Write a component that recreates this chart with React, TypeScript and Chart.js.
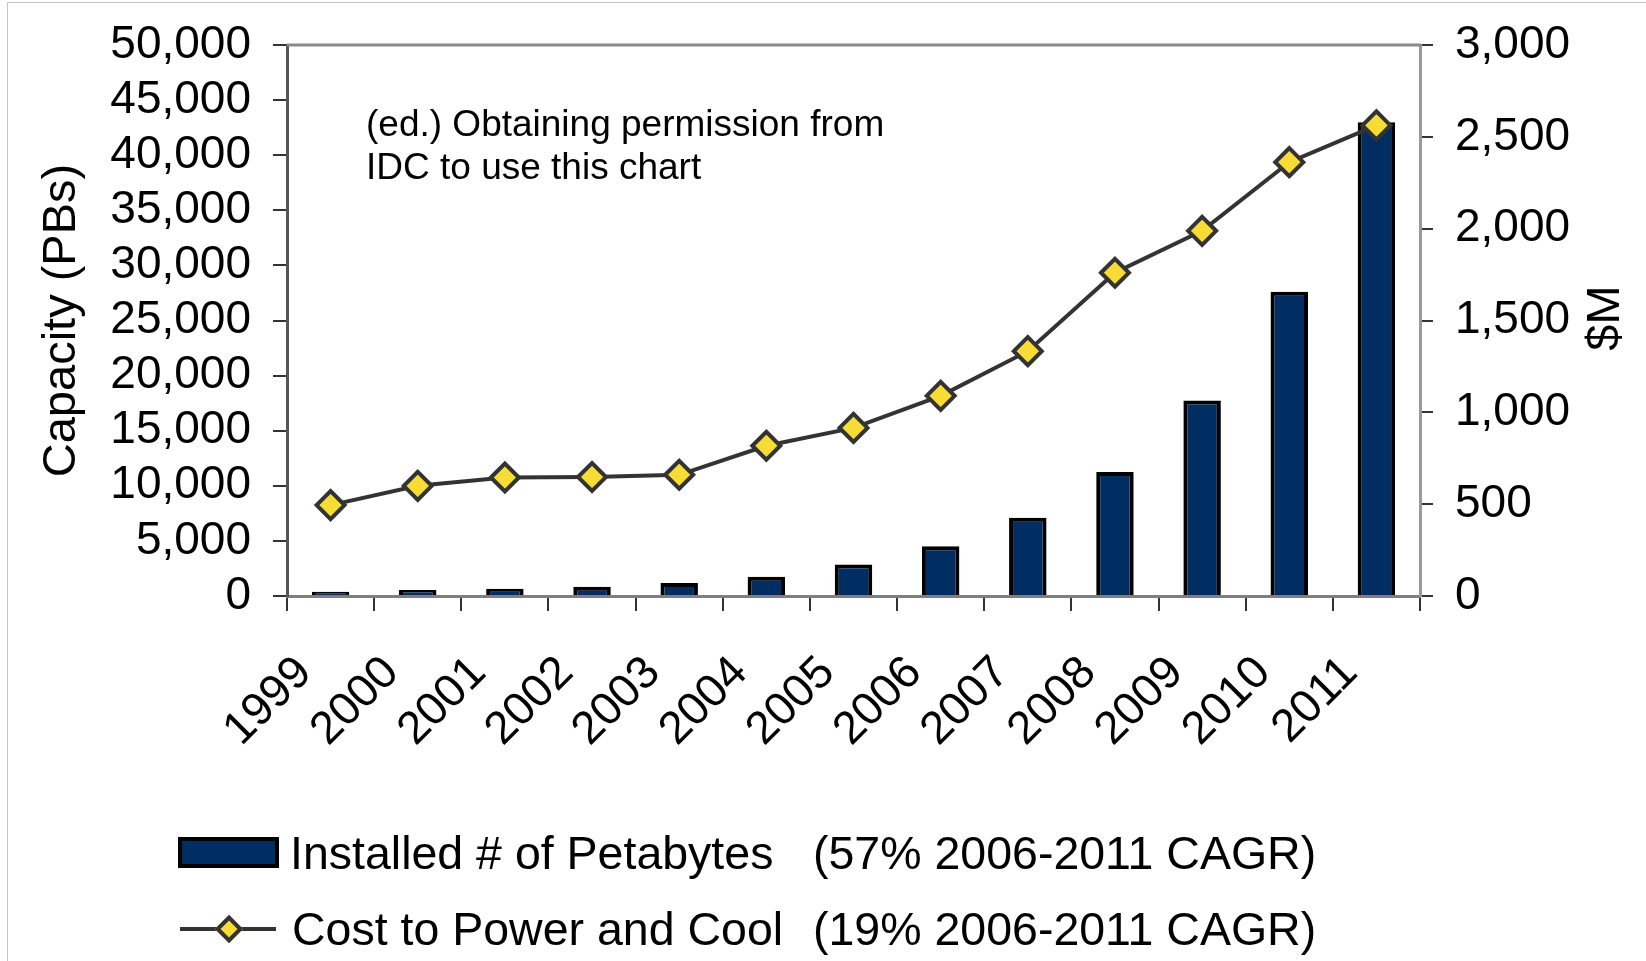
import React, { useEffect, useRef } from 'react';
import { Chart, registerables } from 'chart.js';

Chart.register(...registerables);

// ---- data ----
const years = ['1999', '2000', '2001', '2002', '2003', '2004', '2005', '2006', '2007', '2008', '2009', '2010', '2011'];
const installedPetabytes = [390, 540, 660, 840, 1170, 1740, 2850, 4520, 7100, 11250, 17750, 27600, 43000];
const costToPowerAndCool = [495, 600, 645, 648, 660, 818, 915, 1090, 1333, 1760, 1988, 2362, 2562];
const leftAxisMax = 50000;
const leftAxisStep = 5000;
const rightAxisMax = 3000;
const rightAxisStep = 500;
const leftAxisTitle = 'Capacity (PBs)';
const rightAxisTitle = '$M';
const barLabel = 'Installed # of Petabytes';
const lineLabel = 'Cost to Power and Cool';
const barNote = '(57% 2006-2011 CAGR)';
const lineNote = '(19% 2006-2011 CAGR)';
const annotationLines = ['(ed.) Obtaining permission from', 'IDC to use this chart'];

const FONT = '"Liberation Sans", Arial, Helvetica, sans-serif';
const NAVY = '#012E62';
const YELLOW = '#F6DC34';
const LINE = '#333333';

const fmt = (v: number | string) => Number(v).toLocaleString('en-US');

const framePlugin = {
  id: 'frameAndRightTitle',
  afterDraw(chart: any) {
    const { ctx, chartArea } = chart;
    ctx.save();
    // top frame line of plot area
    ctx.strokeStyle = '#8a8a8a';
    ctx.lineWidth = 3;
    ctx.beginPath();
    ctx.moveTo(chartArea.left, chartArea.top);
    ctx.lineTo(chartArea.right + 1, chartArea.top);
    ctx.stroke();
    // right axis title, reading bottom-to-top
    ctx.fillStyle = '#000';
    ctx.font = `47px ${FONT}`;
    ctx.textAlign = 'center';
    ctx.textBaseline = 'middle';
    ctx.translate(1606, 318);
    ctx.rotate(-Math.PI / 2);
    ctx.fillText(rightAxisTitle, 0, 0);
    ctx.restore();
  },
};

export default function App() {
  const canvasRef = useRef<HTMLCanvasElement | null>(null);

  useEffect(() => {
    document.body.style.margin = '0';
    document.body.style.overflow = 'hidden';
    const canvas = canvasRef.current;
    if (!canvas) return;
    const chart = new Chart(canvas, {
      type: 'bar',
      data: {
        labels: years,
        datasets: [
          {
            type: 'line',
            label: lineLabel,
            data: costToPowerAndCool,
            yAxisID: 'y1',
            order: 0,
            borderColor: LINE,
            borderWidth: 4,
            pointStyle: 'rectRot',
            pointRadius: 14,
            pointBackgroundColor: YELLOW,
            pointBorderColor: LINE,
            pointBorderWidth: 4,
            tension: 0,
          } as any,
          {
            type: 'bar',
            label: barLabel,
            data: installedPetabytes,
            yAxisID: 'y',
            order: 1,
            backgroundColor: NAVY,
            borderColor: '#000000',
            borderWidth: 4,
            barPercentage: 0.43,
            categoryPercentage: 1,
          } as any,
        ],
      },
      options: {
        responsive: false,
        animation: false,
        layout: { padding: { top: 29, left: 0, right: 0, bottom: 0 } },
        plugins: {
          legend: { display: false },
          tooltip: { enabled: false },
        },
        scales: {
          x: {
            offset: true,
            grid: {
              display: true,
              drawOnChartArea: false,
              offset: true,
              tickLength: 15,
              color: '#333',
              lineWidth: 2,
            },
            border: { display: true, color: '#7f7f7f', width: 3 },
            ticks: {
              autoSkip: false,
              maxRotation: 45,
              minRotation: 45,
              padding: 35,
              labelOffset: -26,
              color: '#000',
              font: { family: FONT, size: 46 },
            },
            afterFit: (s: any) => {
              s.height = 365;
            },
          },
          y: {
            position: 'left',
            min: 0,
            max: leftAxisMax,
            ticks: {
              stepSize: leftAxisStep,
              autoSkip: false,
              callback: (v: any) => fmt(v),
              padding: 22,
              color: '#000',
              font: { family: FONT, size: 46, lineHeight: 1 },
            },
            grid: { drawOnChartArea: false, tickLength: 14, color: '#333', lineWidth: 2 },
            border: { display: true, color: '#555', width: 3 },
            title: {
              display: true,
              text: leftAxisTitle,
              color: '#000',
              font: { family: FONT, size: 47 },
              padding: { top: 34, bottom: 0 },
            },
            afterFit: (s: any) => {
              s.width = 287;
            },
          },
          y1: {
            position: 'right',
            min: 0,
            max: rightAxisMax,
            ticks: {
              stepSize: rightAxisStep,
              autoSkip: false,
              callback: (v: any) => fmt(v),
              padding: 22,
              color: '#000',
              font: { family: FONT, size: 46, lineHeight: 1 },
            },
            grid: { drawOnChartArea: false, tickLength: 13, color: '#333', lineWidth: 2 },
            border: { display: true, color: '#999', width: 3 },
            afterFit: (s: any) => {
              s.width = 226;
            },
          },
        },
      } as any,
      plugins: [framePlugin],
    });
    return () => chart.destroy();
  }, []);

  const textStyle: React.CSSProperties = {
    position: 'absolute',
    fontFamily: FONT,
    fontSize: 46.5,
    lineHeight: '56px',
    color: '#000',
    whiteSpace: 'nowrap',
  };

  return (
    <div style={{ position: 'relative', width: 1646, height: 961, background: '#fff', overflow: 'hidden' }}>
      <canvas ref={canvasRef} width={1646} height={961} style={{ display: 'block', width: 1646, height: 961 }} />
      {/* outer light frame */}
      <div
        style={{
          position: 'absolute',
          left: 7,
          top: 2,
          right: 0,
          bottom: 0,
          borderTop: '1px solid #c4c4c4',
          borderLeft: '1px solid #c4c4c4',
          pointerEvents: 'none',
        }}
      />
      {/* annotation */}
      <div
        style={{
          position: 'absolute',
          left: 366,
          top: 102,
          fontFamily: FONT,
          fontSize: 37,
          lineHeight: '43px',
          color: '#000',
          whiteSpace: 'nowrap',
        }}
      >
        {annotationLines.map((l) => (
          <div key={l}>{l}</div>
        ))}
      </div>
      {/* legend row 1 */}
      <div
        style={{
          position: 'absolute',
          left: 178,
          top: 837,
          width: 101,
          height: 31,
          boxSizing: 'border-box',
          border: '4px solid #000',
          background: NAVY,
        }}
      />
      <div style={{ ...textStyle, left: 290, top: 853 - 28 }}>{barLabel}</div>
      <div style={{ ...textStyle, left: 813, top: 853 - 28 }}>{barNote}</div>
      {/* legend row 2 */}
      <div style={{ position: 'absolute', left: 180, top: 927, width: 96, height: 4, background: LINE }} />
      <div
        style={{
          position: 'absolute',
          left: 229 - 10,
          top: 929 - 10,
          width: 20,
          height: 20,
          boxSizing: 'border-box',
          border: `4px solid ${LINE}`,
          background: YELLOW,
          transform: 'rotate(45deg)',
        }}
      />
      <div style={{ ...textStyle, left: 292, top: 929 - 28 }}>{lineLabel}</div>
      <div style={{ ...textStyle, left: 813, top: 929 - 28 }}>{lineNote}</div>
    </div>
  );
}
